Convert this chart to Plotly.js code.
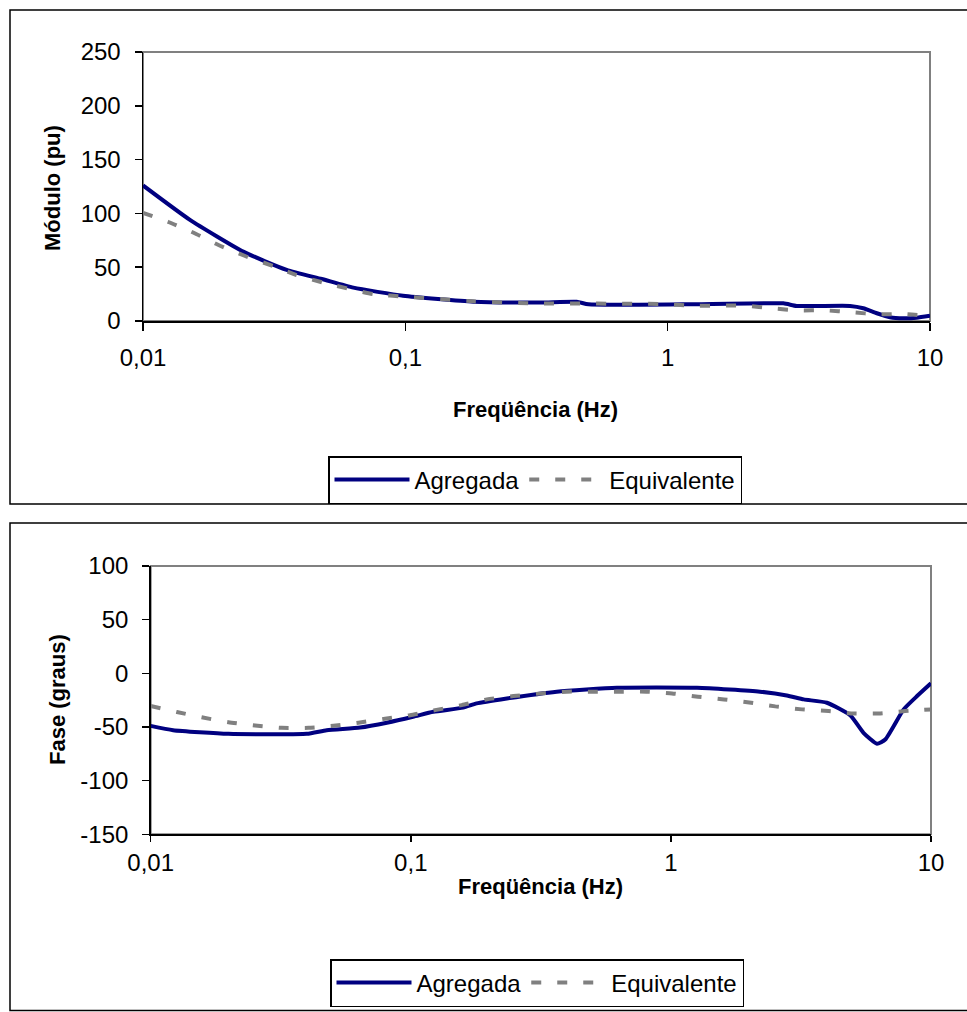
<!DOCTYPE html>
<html>
<head>
<meta charset="utf-8">
<script src="https://cdn.plot.ly/plotly-3.0.1.min.js"></script>
<style>html,body{margin:0;padding:0;background:#fff;}#chart{width:967px;height:1012px;}</style>
</head>
<body>
<div id="chart"></div>
<script>
// Módulo (top chart)
const modAgrF = [0.01, 0.0151, 0.0241, 0.0353, 0.048, 0.0634, 0.098, 0.182, 0.326, 0.45, 0.499, 1.15, 2.76, 3.1, 4.96, 5.57, 6.27, 7.04, 7.91, 8.9, 10];
const modAgrV = [126, 94, 64.5, 47.5, 39, 31, 23.5, 18, 17.2, 17.9, 15.5, 15.5, 16.4, 14, 14, 11.8, 7.2, 3.5, 2.5, 3, 4.8];
const modEqF = [0.01, 0.0125, 0.0156, 0.0194, 0.0245, 0.0314, 0.0385, 0.0487, 0.0755, 0.101, 0.182, 0.307, 0.964, 1.22, 2.0, 2.49, 3.15, 3.98, 5.03, 6.36, 7.91, 10];
const modEqV = [100.5, 92, 82, 70.6, 60.4, 51, 42.7, 35.6, 25, 22.6, 18.3, 16.4, 15.8, 14.2, 14.2, 11.8, 9.9, 9.9, 8.1, 6.2, 6.5, 4.6];

// Fase (bottom chart)
const faseAgrF = [0.01, 0.0122, 0.0199, 0.0398, 0.0475, 0.0638, 0.0809, 0.102, 0.122, 0.159, 0.179, 0.234, 0.364, 0.62, 1.26, 2.2, 2.79, 3.24, 3.98, 4.9, 5.5, 6.2, 6.67, 7.85, 8.84, 10];
const faseAgrV = [-49, -53, -56.4, -56.4, -53, -50.5, -46, -40.5, -35.8, -32, -28, -23.4, -17.1, -13.4, -13.4, -17.1, -20.6, -24.3, -27.4, -39.3, -55.4, -65.7, -61.7, -33.6, -21.2, -9.3];
const faseEqF = [0.01, 0.0126, 0.0157, 0.0199, 0.0252, 0.0319, 0.0404, 0.0504, 0.0629, 0.0796, 0.0994, 0.124, 0.157, 0.196, 0.248, 0.318, 0.398, 0.504, 0.638, 0.804, 1.01, 1.27, 1.6, 2.0, 2.52, 3.19, 4.04, 5.04, 6.38, 7.96, 10];
const faseEqV = [-30.5, -36, -41, -45.5, -48.6, -50.8, -50.8, -48.9, -46, -42.3, -39, -34.3, -29.6, -24.3, -21.2, -18.7, -17.1, -17.1, -17.1, -17.1, -18.7, -21.8, -24.3, -27.1, -30.8, -33.6, -35.2, -37.4, -37.4, -35.2, -33.6];

const xTickVals = [0.01, 0.1, 1, 10];
const xTickText = ['0,01', '0,1', '1', '10'];
const modTicks = [0, 50, 100, 150, 200, 250];
const modTickText = ['0', '50', '100', '150', '200', '250'];
const faseTicks = [-150, -100, -50, 0, 50, 100];
const faseTickText = ['-150', '-100', '-50', '0', '50', '100'];

const seriesNames = ['Agregada', 'Equivalente'];

const W = 967, H = 1012;
const px = v => v / W, py = v => (H - v) / H;

const agrLine = {color: '#000080', width: 4, shape: 'spline', smoothing: 0.5};
const eqLine = {color: '#808080', width: 4, dash: '10px,16px', shape: 'spline', smoothing: 0.5};

const traces = [
  {x: modAgrF, y: modAgrV, name: seriesNames[0], mode: 'lines', line: agrLine, xaxis: 'x', yaxis: 'y', legend: 'legend'},
  {x: modEqF, y: modEqV, name: seriesNames[1], mode: 'lines', line: eqLine, xaxis: 'x', yaxis: 'y', legend: 'legend'},
  {x: faseAgrF, y: faseAgrV, name: seriesNames[0], mode: 'lines', line: agrLine, xaxis: 'x2', yaxis: 'y2', legend: 'legend2'},
  {x: faseEqF, y: faseEqV, name: seriesNames[1], mode: 'lines', line: eqLine, xaxis: 'x2', yaxis: 'y2', legend: 'legend2'}
];

const font = {family: 'Liberation Sans, Arial, sans-serif', size: 24, color: '#000'};
const tfont = {family: 'Liberation Sans, Arial, sans-serif', size: 22, color: '#000', weight: 'bold'};

const xaxisBase = {
  type: 'log', range: [-2, 1], tickvals: xTickVals, ticktext: xTickText,
  showline: true, linecolor: '#000', linewidth: 1.5, ticks: 'outside', ticklen: 8, tickcolor: '#000', tickwidth: 1.5,
  showgrid: false, zeroline: false, tickfont: font, fixedrange: true
};
const yaxisBase = {
  showline: true, linecolor: '#000', linewidth: 1.5, ticks: 'outside', ticklen: 7, tickcolor: '#000', tickwidth: 1.5,
  showgrid: false, zeroline: false, tickfont: font, fixedrange: true, ticklabelstandoff: 9
};

const legendBase = {
  orientation: 'h', xanchor: 'center', yanchor: 'middle', bgcolor: '#fff',
  bordercolor: '#000', borderwidth: 1.5, font: font, itemwidth: 75, tracegroupgap: 0, itemclick: false
};

const layout = {
  width: W, height: H, margin: {l: 0, r: 0, t: 0, b: 0},
  paper_bgcolor: '#fff', plot_bgcolor: '#fff', font: font, showlegend: true,
  xaxis: Object.assign({}, xaxisBase, {domain: [px(143), px(930)], anchor: 'y', ticklabelstandoff: 7}),
  yaxis: Object.assign({}, yaxisBase, {domain: [py(321), py(52)], range: [0, 250], tickvals: modTicks, ticktext: modTickText, anchor: 'x'}),
  xaxis2: Object.assign({}, xaxisBase, {domain: [px(150.7), px(931)], anchor: 'y2', ticklen: 6, ticklabelstandoff: 0}),
  yaxis2: Object.assign({}, yaxisBase, {domain: [py(834.3), py(566)], range: [-150, 100], tickvals: faseTicks, ticktext: faseTickText, anchor: 'x2'}),
  legend: Object.assign({}, legendBase, {x: px(535), y: py(480)}),
  legend2: Object.assign({}, legendBase, {x: px(537), y: py(983)}),
  annotations: [
    {text: 'Módulo (pu)', xref: 'paper', yref: 'paper', x: px(52), y: py(188), textangle: -90, showarrow: false, font: tfont, xanchor: 'center', yanchor: 'middle'},
    {text: 'Freqüência (Hz)', xref: 'paper', yref: 'paper', x: px(535), y: py(409), showarrow: false, font: tfont, xanchor: 'center', yanchor: 'middle'},
    {text: 'Fase (graus)', xref: 'paper', yref: 'paper', x: px(57), y: py(700), textangle: -90, showarrow: false, font: tfont, xanchor: 'center', yanchor: 'middle'},
    {text: 'Freqüência (Hz)', xref: 'paper', yref: 'paper', x: px(540), y: py(886), showarrow: false, font: tfont, xanchor: 'center', yanchor: 'middle'}
  ],
  shapes: [
    {type: 'rect', xref: 'paper', yref: 'paper', x0: px(10), x1: px(990), y0: py(504), y1: py(10), line: {color: '#000', width: 1.5}, layer: 'below'},
    {type: 'rect', xref: 'paper', yref: 'paper', x0: px(10), x1: px(990), y0: py(1010.5), y1: py(523), line: {color: '#000', width: 1.5}, layer: 'below'},
    {type: 'rect', xref: 'paper', yref: 'paper', x0: px(143), x1: px(930), y0: py(321), y1: py(52), line: {color: '#808080', width: 2}, layer: 'below'},
    {type: 'rect', xref: 'paper', yref: 'paper', x0: px(150.7), x1: px(931), y0: py(834.3), y1: py(566), line: {color: '#808080', width: 2}, layer: 'below'}
  ]
};

Plotly.newPlot('chart', traces, layout, {staticPlot: true, displayModeBar: false});
</script>
</body>
</html>
